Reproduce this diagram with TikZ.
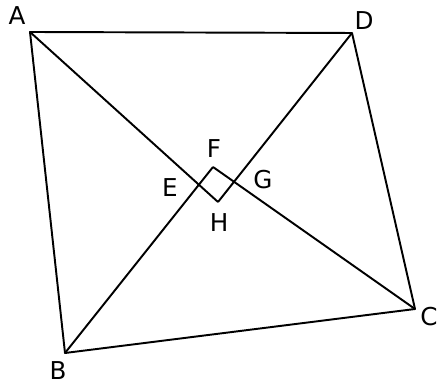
\documentclass[tikz,border=0pt]{standalone}
\usepackage{fontspec}
\setmainfont{DejaVu Sans}
\usetikzlibrary{calc}
\begin{document}
\begin{tikzpicture}[line width=1.1pt, line join=round,
    lbl/.style={font=\fontsize{14}{16}\selectfont, inner sep=1pt}]
    \useasboundingbox (0,0) rectangle (8.76,7.72);
    \coordinate (A) at (0.60,7.08);
    \coordinate (D) at (7.04,7.06);
    \coordinate (B) at (1.30,0.66);
    \coordinate (C) at (8.30,1.54);
    \coordinate (F) at (4.26,4.38);
    \coordinate (H) at (4.36,3.68);
    \coordinate (E) at (intersection of A--H and B--F);
    \coordinate (G) at (intersection of C--F and D--H);

    \draw (A) -- (D) -- (C) -- (B) -- cycle;
    \draw (A) -- (H);
    \draw (D) -- (H);
    \draw (B) -- (F);
    \draw (C) -- (F);

    \node[lbl] (lA) at (0.34,7.40) {A};
    \node[lbl] (lD) at (7.28,7.30) {D};
    \node[lbl] (lB) at (1.16,0.30) {B};
    \node[lbl] (lC) at (8.58,1.38) {C};
    \node[lbl] (lE) at (3.40,3.96) {E};
    \node[lbl] (lF) at (4.28,4.74) {F};
    \node[lbl] (lG) at (5.26,4.12) {G};
    \node[lbl] (lH) at (4.38,3.26) {H};
\end{tikzpicture}
\end{document}
